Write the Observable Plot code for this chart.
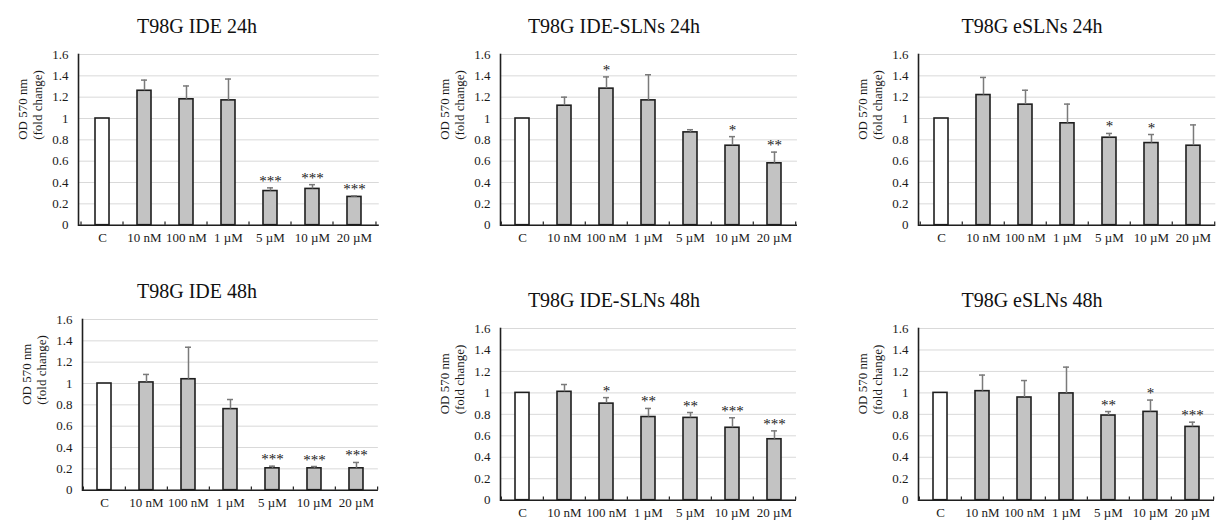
<!DOCTYPE html>
<html>
<head>
<meta charset="utf-8">
<script src="https://cdn.jsdelivr.net/npm/d3@7"></script>
<script src="https://cdn.jsdelivr.net/npm/@observablehq/plot@0.6"></script>
<style>
  html, body { margin: 0; padding: 0; background: #fff; }
  #root { position: relative; width: 1232px; height: 531px; overflow: hidden; background: #fff; font-family: "Liberation Serif", "Times New Roman", serif; }
  .panel-title { position: absolute; width: 300px; text-align: center; font-size: 20px; line-height: 20px; color: #111; white-space: nowrap; font-family: "Liberation Serif", serif; }
  .panel-plot { position: absolute; }
  .panel-plot text { font-family: "Liberation Serif", serif; }
</style>
</head>
<body>
<div id="root"></div>
<script>
// ---- data ----
const categories = ["C", "10 nM", "100 nM", "1 µM", "5 µM", "10 µM", "20 µM"];
const yTicks = [0, 0.2, 0.4, 0.6, 0.8, 1, 1.2, 1.4, 1.6];
const yLabel = "OD 570 nm\n(fold change)";

const titles = ["T98G IDE 24h", "T98G IDE-SLNs 24h", "T98G eSLNs 24h",
                "T98G IDE 48h", "T98G IDE-SLNs 48h", "T98G eSLNs 48h"];

const ide24      = [1, 1.26, 1.18, 1.17, 0.32, 0.34, 0.265];
const ide24Err   = [0, 0.10, 0.125, 0.20, 0.03, 0.04, 0.01];
const ide24Sig   = ["", "", "", "", "***", "***", "***"];

const sln24      = [1, 1.12, 1.28, 1.17, 0.87, 0.745, 0.58];
const sln24Err   = [0, 0.08, 0.11, 0.24, 0.025, 0.085, 0.105];
const sln24Sig   = ["", "", "*", "", "", "*", "**"];

const esln24     = [1, 1.22, 1.13, 0.955, 0.82, 0.77, 0.745];
const esln24Err  = [0, 0.165, 0.135, 0.18, 0.04, 0.08, 0.195];
const esln24Sig  = ["", "", "", "", "*", "*", ""];

const ide48      = [1, 1.01, 1.04, 0.76, 0.205, 0.205, 0.205];
const ide48Err   = [0, 0.075, 0.30, 0.09, 0.02, 0.017, 0.055];
const ide48Sig   = ["", "", "", "", "***", "***", "***"];

const sln48      = [1, 1.01, 0.90, 0.775, 0.767, 0.675, 0.568];
const sln48Err   = [0, 0.068, 0.056, 0.08, 0.05, 0.093, 0.078];
const sln48Sig   = ["", "", "*", "**", "**", "***", "***"];

const esln48     = [1, 1.016, 0.957, 0.995, 0.789, 0.823, 0.683];
const esln48Err  = [0, 0.15, 0.158, 0.245, 0.037, 0.11, 0.044];
const esln48Sig  = ["", "", "", "", "**", "*", "***"];

const series = [
  [ide24, ide24Err, ide24Sig],
  [sln24, sln24Err, sln24Sig],
  [esln24, esln24Err, esln24Sig],
  [ide48, ide48Err, ide48Sig],
  [sln48, sln48Err, sln48Sig],
  [esln48, esln48Err, esln48Sig]
];

// ---- layout (pixel placement of each panel) ----
const layout = [
  {axisX: 77.7, rightX: 378.5, topY: 54.3, baseY: 225, titleX: 197, titleTop: 15.5},
  {axisX: 500,  rightX: 797,   topY: 54.3, baseY: 225, titleX: 614, titleTop: 15.5},
  {axisX: 917.7,rightX: 1215,  topY: 54.3, baseY: 225, titleX: 1032, titleTop: 15.5},
  {axisX: 82.4, rightX: 378.3, topY: 319.3, baseY: 490, titleX: 197, titleTop: 280.5},
  {axisX: 500,  rightX: 796,   topY: 328.3, baseY: 500, titleX: 614, titleTop: 289.5},
  {axisX: 918,  rightX: 1214,  topY: 328.3, baseY: 500, titleX: 1032, titleTop: 289.5}
];

const FONT = "Liberation Serif";
const root = document.getElementById("root");
const mL = 80, mR = 12, mT = 14, mB = 32;

series.forEach(([vals, errs, sigs], i) => {
  const L = layout[i];
  const rows = categories.map((c, j) => ({cat: c, value: vals[j], err: errs[j], sig: sigs[j]}));
  const innerW = L.rightX - L.axisX;
  const step = innerW / categories.length;

  const chart = Plot.plot({
    width: innerW + mL + mR,
    height: (L.baseY - L.topY) + mT + mB,
    marginLeft: mL, marginRight: mR, marginTop: mT, marginBottom: mB,
    style: `font-family: '${FONT}', serif; font-size: 13px; color: #1a1a1a; background: transparent; overflow: visible;`,
    x: {domain: categories, paddingInner: 0.665, paddingOuter: 0.3325, align: 0.5},
    y: {domain: [0, 1.6]},
    color: {type: "identity"},
    marks: [
      Plot.gridY(yTicks, {stroke: "#d9d9d9", strokeOpacity: 1, strokeWidth: 1}),
      Plot.axisY(yTicks, {tickSize: 0, tickPadding: 10, tickFormat: d => String(d), label: null, fontFamily: FONT, fontSize: 13, fill: "#1a1a1a"}),
      Plot.axisX({tickSize: 0, tickPadding: 8, label: null, fontFamily: FONT, fontSize: 13, fill: "#1a1a1a"}),
      Plot.text([yLabel], {frameAnchor: "left", rotate: -90, dx: -49, fontSize: 13, lineHeight: 1.2, fontFamily: FONT, fill: "#1a1a1a"}),
      Plot.barY(rows, {x: "cat", y: "value", fill: d => d.cat === "C" ? "#ffffff" : "#c3c3c3", stroke: "#1f1f1f", strokeWidth: 1.6}),
      Plot.ruleX(rows.filter(d => d.err > 0), {x: "cat", y1: "value", y2: d => d.value + d.err, stroke: "#7a7a7a", strokeWidth: 1.5}),
      Plot.tickY(rows.filter(d => d.err > 0), {x: "cat", y: d => d.value + d.err, stroke: "#7a7a7a", strokeWidth: 1.5, insetLeft: 4, insetRight: 4}),
      Plot.text(rows.filter(d => d.sig), {x: "cat", y: d => d.value + d.err, text: "sig", lineAnchor: "bottom", dy: -2, fontSize: 15, fontFamily: FONT, fill: "#1a1a1a"}),
      Plot.ruleY([0], {stroke: "#1f1f1f", strokeWidth: 1.6}),
      Plot.ruleX(categories, {x: d => d, y1: 0, y2: 0.03, dx: -step / 2, stroke: "#1f1f1f", strokeWidth: 1.2}),
      Plot.ruleX([categories[categories.length - 1]], {x: d => d, y1: 0, y2: 0.03, dx: step / 2, stroke: "#1f1f1f", strokeWidth: 1.2}),
      Plot.frame({anchor: "left", stroke: "#1f1f1f", strokeWidth: 1.6})
    ]
  });
  chart.classList.add("panel-plot");
  chart.style.position = "absolute";
  chart.style.left = (L.axisX - mL) + "px";
  chart.style.top = (L.topY - mT) + "px";
  root.appendChild(chart);

  const t = document.createElement("div");
  t.className = "panel-title";
  t.textContent = titles[i];
  t.style.left = (L.titleX - 150) + "px";
  t.style.top = L.titleTop + "px";
  root.appendChild(t);
});
</script>
</body>
</html>
